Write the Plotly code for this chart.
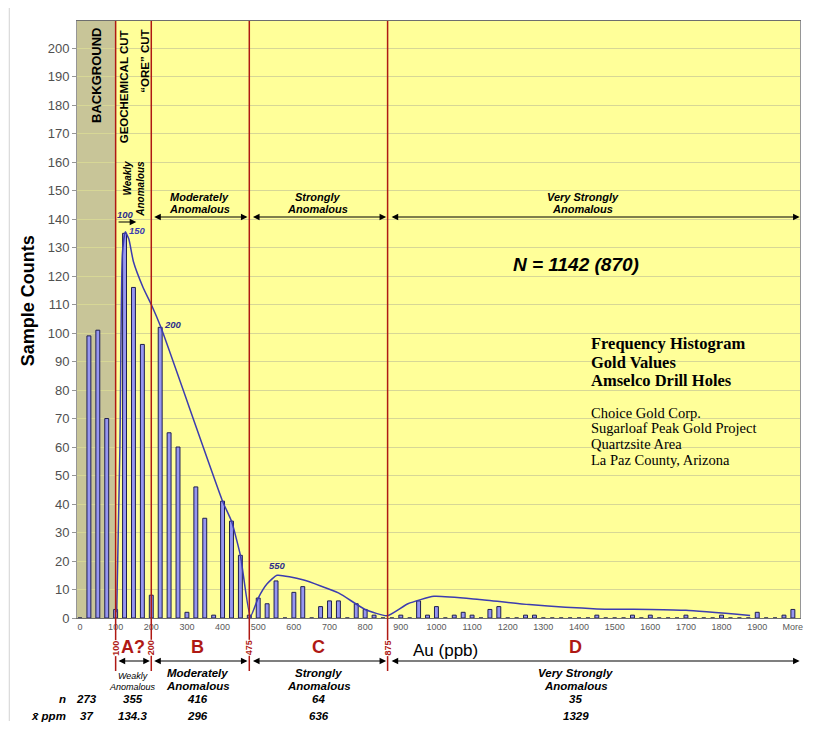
import plotly.graph_objects as go

# histogram bins (ppb) and sample counts, last bin is "More"
bin_ppb = [0, 25, 50, 75, 100,
           125, 150, 175, 200, 225, 250, 275, 300, 325, 350, 375, 400,
           425, 450, 475, 500, 525, 550, 575, 600, 625, 650, 675, 700,
           725, 750, 775, 800, 825, 850, 875, 900, 925, 950, 975, 1000,
           1025, 1050, 1075, 1100, 1125, 1150, 1175, 1200, 1225, 1250, 1275, 1300,
           1325, 1350, 1375, 1400, 1425, 1450, 1475, 1500, 1525, 1550, 1575, 1600,
           1625, 1650, 1675, 1700, 1725, 1750, 1775, 1800, 1825, 1850, 1875, 1900,
           1925, 1950, 1975, 2000]
counts = [0, 99, 101, 70, 3,
          135, 116, 96, 8, 102, 65, 60, 2, 46, 35, 1, 41,
          34, 22, 1, 7, 5, 13, 0, 9, 11, 0, 4, 6,
          6, 0, 5, 3, 1, 0, 0, 1, 0, 6, 1, 4,
          0, 1, 2, 1, 0, 3, 4, 0, 0, 1, 1, 0,
          0, 0, 0, 0, 0, 1, 0, 0, 0, 1, 0, 1,
          0, 0, 0, 1, 0, 0, 0, 1, 0, 0, 0, 2,
          0, 0, 1, 3]

tick_ppb = [0, 100, 200, 300, 400, 500, 600, 700, 800, 900, 1000,
            1100, 1200, 1300, 1400, 1500, 1600, 1700, 1800, 1900, 2000]
tick_text = ["0", "100", "200", "300", "400", "500", "600", "700", "800", "900", "1000",
             "1100", "1200", "1300", "1400", "1500", "1600", "1700", "1800", "1900", "More"]

# hand drawn envelope curve
curve_ppb = [103, 112, 119, 127, 137, 150, 177, 200, 227, 400, 425, 450, 478,
             500, 525, 553, 625, 725, 800, 862, 920, 993, 1120, 1260, 1450, 1600, 1700, 1880]
curve_count = [2, 60, 128, 135.5, 133, 125, 116, 110, 102, 41, 34, 22, 0.5,
               7, 12, 15, 13.4, 8.8, 3, 0.8, 5, 7.6, 6.5, 4.7, 3.2, 3, 2.7, 0.9]

# zone boundaries (ppb)
cut_ppb = [100, 200, 475, 863]
cut_text = ["100", "200", "475", "875"]

zones = ["A?", "B", "C", "D"]
zone_names = ["Weakly", "Moderately", "Strongly", "Very Strongly"]
n_values = ["273", "355", "416", "64", "35"]
mean_values = ["37", "134.3", "296", "636", "1329"]

ARIAL = "Arial, Liberation Sans, sans-serif"
TIMES = "Times New Roman, Liberation Serif, serif"
RED = "rgb(175,25,20)"
NAVY = "rgb(45,45,140)"

# plot area in page pixels; the page body adds an 8px margin
PAGE = 8
W, H = 816 - 2 * PAGE, 730 - 2 * PAGE
L, R, T, B = 77, 803, 21, 618


def xp(px):
    return (px - L) / (R - L)


def yp(py):
    return (B - py) / (B - T)


fig = go.Figure()
fig.add_trace(
    go.Bar(
        x=bin_ppb,
        y=counts,
        width=11,
        marker=dict(color="rgb(150,150,240)", line=dict(color="rgb(30,30,80)", width=1)),
    )
)
fig.add_trace(
    go.Scatter(
        x=curve_ppb,
        y=curve_count,
        mode="lines",
        line=dict(color="rgb(60,60,175)", width=1.5, shape="spline", smoothing=0.5),
    )
)

shapes = []
# background zone
shapes.append(dict(type="rect", xref="x", yref="paper", x0=-20, x1=100, y0=0, y1=1,
                   fillcolor="rgb(200,197,152)", line_width=0, layer="below"))
# cut lines
for c in cut_ppb:
    shapes.append(dict(type="line", xref="x", yref="paper", x0=c, x1=c, y0=yp(671), y1=1,
                       line=dict(color=RED, width=1.5)))
# outer frame (top and left edges)
shapes.append(dict(type="line", xref="paper", yref="paper", x0=xp(9), x1=xp(9), y0=yp(721), y1=yp(7),
                   line=dict(color="rgb(210,210,210)", width=1)))
shapes.append(dict(type="line", xref="paper", yref="paper", x0=xp(9), x1=xp(807), y0=yp(7), y1=yp(7),
                   line=dict(color="rgb(210,210,210)", width=1)))

annotations = []


def text(x, y, s, size, color="black", xref="paper", angle=0, xanchor="center",
         yanchor="middle", family=ARIAL, bg=None, align="center"):
    annotations.append(dict(x=x, y=y, xref=xref, yref="paper", text=s, showarrow=False,
                            font=dict(family=family, size=size, color=color), textangle=angle,
                            xanchor=xanchor, yanchor=yanchor, bgcolor=bg, align=align,
                            borderpad=0))


def arrow(x0, x1, py, both=True):
    annotations.append(dict(x=x1, y=yp(py), xref="x", yref="paper", ax=x0, ay=0,
                            axref="x", ayref="pixel", text="", showarrow=True,
                            arrowhead=2, arrowsize=1.1, arrowwidth=1.2, arrowcolor="black",
                            arrowside="end+start" if both else "end", standoff=0, startstandoff=0))


# vertical zone headings
text(xp(96.5), yp(27), "<b>BACKGROUND</b>", 13, angle=-90, yanchor="top")
text(xp(124), yp(29), "<b>GEOCHEMICAL CUT</b>", 11.5, angle=-90, yanchor="top")
text(xp(144.5), yp(29), "<b>\u201cORE\u201d CUT</b>", 11.5, angle=-90, yanchor="top")
text(xp(134), yp(189), "<b><i>Weakly<br>Anomalous</i></b>", 10, angle=-90, align="right")

# upper arrows and labels
arrow(104, 158, 222, both=False)
text(xp(126), yp(214), "<b><i>100</i></b>", 9.5, color=NAVY)
text(xp(138), yp(231), "<b><i>150</i></b>", 9.5, color="rgb(60,60,175)")
text(xp(173), yp(324), "<b><i>200</i></b>", 9.5, color=NAVY)
text(xp(278), yp(565), "<b><i>550</i></b>", 9.5, color=NAVY)

top_spans = [(204, 470), (481, 859), (870, 2019)]
top_centers = [200, 318, 585]
for (a, b), cx, name in zip(top_spans, top_centers, zone_names[1:]):
    arrow(a, b, 217)
    text(xp(cx), yp(197), "<b><i>%s</i></b>" % name, 11)
    text(xp(cx), yp(209), "<b><i>Anomalous</i></b>", 11)

text(xp(578), yp(264), "<b><i>N = 1142 (870)</i></b>", 19)

for i, s in enumerate(["Frequency Histogram", "Gold Values", "Amselco Drill Holes"]):
    text(xp(592), yp(343 + 19 * i), "<b>%s</b>" % s, 16.5, xanchor="left", family=TIMES)
for i, s in enumerate(["Choice Gold Corp.", "Sugarloaf Peak Gold Project", "Quartzsite Area",
                       "La Paz County, Arizona"]):
    text(xp(592), yp(413 + 15.5 * i), s, 14.5, xanchor="left", family=TIMES)

# axis title
text(xp(28), yp(301), "<b>Sample Counts</b>", 18, angle=-90)

# below the axis
for c, s in zip(cut_ppb, cut_text):
    text(c, yp(648), "<b>%s</b>" % s, 9, color=RED, xref="x", angle=-90, bg="white")

zone_x = [133, 198, 320, 578]
for zx, z in zip(zone_x, zones):
    text(xp(zx), yp(647), "<b>%s</b>" % z, 18, color=RED)
text(xp(447), yp(650), "Au (ppb)", 17)

arrow(104, 196, 661)
arrow(204, 470, 661)
arrow(481, 859, 661)
arrow(870, 2019, 661)

text(xp(133), yp(676), "<i>Weakly</i>", 9)
text(xp(133), yp(687), "<i>Anomalous</i>", 9)
for zx, name in zip(zone_x[1:], zone_names[1:]):
    text(xp(zx), yp(673), "<b><i>%s</i></b>" % name, 11.5)
    text(xp(zx), yp(686), "<b><i>Anomalous</i></b>", 11.5)

row_x = [87] + zone_x
text(xp(67), yp(699), "<b><i>n</i></b>", 11.5, xanchor="right")
text(xp(67), yp(716), "<b><i>x\u0304 ppm</i></b>", 11.5, xanchor="right")
for rx, nv, mv in zip(row_x, n_values, mean_values):
    text(xp(rx), yp(699), "<b><i>%s</i></b>" % nv, 11.5)
    text(xp(rx), yp(716), "<b><i>%s</i></b>" % mv, 11.5)

fig.update_layout(
    width=W,
    height=H,
    autosize=False,
    margin=dict(l=L - PAGE, r=W - (R - PAGE), t=T - PAGE, b=H - (B - PAGE)),
    paper_bgcolor="white",
    plot_bgcolor="rgb(255,255,153)",
    showlegend=False,
    font=dict(family=ARIAL),
    shapes=shapes,
    annotations=annotations,
    xaxis=dict(
        range=[-8.4, 2020],
        tickvals=tick_ppb,
        ticktext=tick_text,
        tickfont=dict(size=9, color="rgb(90,90,90)"),
        showgrid=False,
        zeroline=False,
        showline=True,
        linecolor="rgb(110,110,110)",
        mirror=True,
        ticks="",
    ),
    yaxis=dict(
        range=[0, 209.5],
        dtick=10,
        tickfont=dict(size=13, color="rgb(80,80,80)"),
        gridcolor="rgb(215,215,150)",
        zeroline=False,
        showline=True,
        linecolor="rgb(150,150,150)",
        mirror=True,
        ticks="outside",
        ticklen=4,
        tickcolor="rgb(150,150,150)",
    ),
)

fig.write_html("out.html")
